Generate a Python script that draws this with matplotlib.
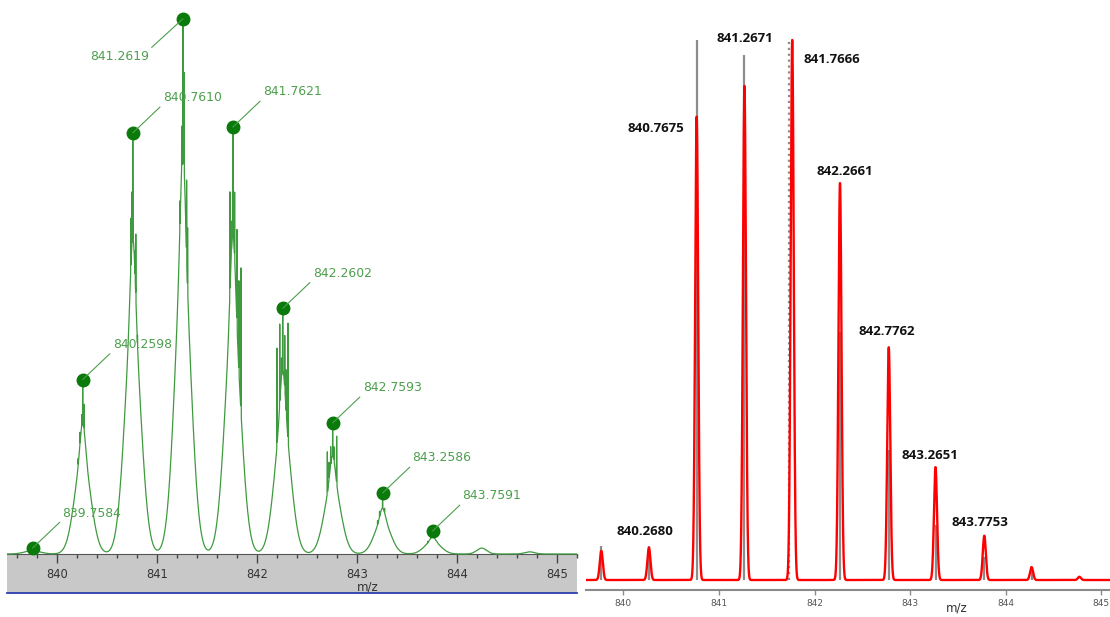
import numpy as np
import matplotlib
matplotlib.use("Agg")
import matplotlib.pyplot as plt
from matplotlib.ticker import MultipleLocator

# measured spectrum: labelled centroids (m/z) and relative intensity (%)
exp_mz = [839.7584, 840.2598, 840.7610, 841.2619, 841.7621,
          842.2602, 842.7593, 843.2586, 843.7591]
exp_int = [1.1, 32.6, 78.7, 100.0, 79.8, 45.9, 24.5, 11.4, 4.3]

# unresolved fine structure on top of each isotope peak:
# (offset from centroid in m/z, height in % of that peak)
exp_spikes = [
    [],
    [(-0.045, 55), (-0.027, 70), (-0.010, 80), (0.013, 86), (0.030, 62)],
    [(-0.020, 80), (-0.008, 86), (0.023, 72), (0.030, 76), (0.047, 52)],
    [(-0.030, 66), (-0.012, 80), (0.004, 86), (0.012, 90), (0.037, 70),
     (0.047, 61)],
    [(-0.030, 85), (-0.015, 78), (0.017, 85), (0.040, 76), (0.060, 64),
     (0.080, 67)],
    [(-0.057, 84), (-0.030, 94), (-0.012, 80), (0.020, 89), (0.035, 75),
     (0.053, 94)],
    [(-0.053, 78), (-0.035, 70), (-0.020, 82), (0.013, 82), (0.040, 90)],
    [(-0.050, 55), (-0.030, 70), (-0.015, 62), (0.020, 75)],
    [(-0.050, 55), (-0.020, 70), (0.030, 60)],
]

# small unlabelled bumps in the baseline
noise_mz = [844.25, 844.73]
noise_int = [1.1, 0.4]

# simulated isotope pattern (red profile)
sim_mz = [839.77, 840.2680, 840.7675, 841.2671, 841.7666, 842.2661,
          842.7762, 843.2651, 843.7753, 844.27, 844.77]
sim_int = [5.4, 6.0, 85.8, 91.5, 100.0, 73.5, 43.1, 20.9, 8.2, 2.4, 0.6]
sim_labels = ["", "840.2680", "840.7675", "841.2671", "841.7666", "842.2661",
              "842.7762", "843.2651", "843.7753", "", ""]

# centroid sticks (grey)
stick_mz = [839.77, 840.2680, 840.7675, 841.2671, 841.738, 842.2661,
            842.7762, 843.2651, 843.7753, 844.27]
stick_int = [6.3, 6.3, 100.0, 97.3, 100.0, 46.0, 24.0, 10.2, 4.3, 1.5]
stick_style = ["-", "-", "-", "-", ":", "-", "-", "-", "-", "-"]

# label placement for the simulated peaks: (dx in m/z, y in %)
sim_label_pos = [None, (-0.04, 8.9), (-0.425, 83.7), (0.006, 100.2),
                 (0.41, 96.3), (0.053, 75.6), (-0.018, 46.1),
                 (-0.057, 23.1), (-0.044, 10.7), None, None]


def gauss(x, c, h, s):
    return h * np.exp(-0.5 * ((x - c) / s) ** 2)


fig = plt.figure(figsize=(11.1, 6.17), dpi=100)

# ---------------- left: measured spectrum ----------------
ax1 = fig.add_axes([7 / 1110, 24 / 617, 570 / 1110, 588 / 617])
x1 = np.linspace(839.50, 845.21, 14000)
env = np.zeros_like(x1)
spk = np.zeros_like(x1)
for mz, h, spikes in zip(exp_mz, exp_int, exp_spikes):
    # broad body plus a narrower core
    env += gauss(x1, mz, 0.55 * h, 0.08) + gauss(x1, mz, 0.2 * h, 0.025)
    spk = np.maximum(spk, gauss(x1, mz, h, 0.0018))
    for off, frac in spikes:
        spk = np.maximum(spk, gauss(x1, mz + off, h * frac / 100, 0.0022))
for mz, h in zip(noise_mz, noise_int):
    env += gauss(x1, mz, h, 0.05)
ax1.plot(x1, np.maximum(env, spk), color="#3f9a3f", lw=0.9, zorder=3)

green_txt = "#4c9f4c"
top = exp_mz[int(np.argmax(exp_int))]
ax1.plot(exp_mz, exp_int, "o", ms=9, color="#0a7a0a", zorder=6, clip_on=False)
for mz, h in zip(exp_mz, exp_int):
    if mz == top:
        xytext, ha, rel = (-24.5, -27.0), "right", (1, 1)
    else:
        xytext, ha, rel = (21.6, 25.2), "left", (0, 0)
    ax1.annotate(f"{mz:.4f}", (mz, h), xytext=xytext, textcoords="offset points",
                 ha=ha, va="center", fontsize=8.9, color=green_txt,
                 family="DejaVu Sans", zorder=7,
                 arrowprops=dict(arrowstyle="-", color=green_txt, lw=0.8,
                                 shrinkA=0, shrinkB=0, relpos=rel))

ax1.set_xlim(839.503, 845.203)
ax1.set_ylim(-7.29, 102.6)
ax1.axhspan(-7.29, 0, color="#c8c8c8", zorder=1, lw=0)
ax1.axhline(-7.29, color="#2b3fb0", lw=1.3, clip_on=False, zorder=4)
for side in ("top", "left", "right"):
    ax1.spines[side].set_visible(False)
ax1.spines["bottom"].set_position(("data", 0))
ax1.spines["bottom"].set_color("#555555")
ax1.set_yticks([])
ax1.xaxis.set_major_locator(MultipleLocator(1))
ax1.xaxis.set_minor_locator(MultipleLocator(0.2))
ax1.tick_params(axis="x", which="major", length=6.5, width=1, color="#444444",
                labelsize=8.3, labelcolor="#333333", pad=3.6)
ax1.tick_params(axis="x", which="minor", length=2.9, width=1, color="#444444")
ax1.set_xlabel("m/z", fontsize=8.5, color="#333333")
ax1.xaxis.set_label_coords(0.633, 0.021)
ax1.patch.set_alpha(0)

# ---------------- right: simulated pattern ----------------
ax2 = fig.add_axes([586 / 1110, 27 / 617, 524 / 1110, 560 / 617])
for mz, h, ls in zip(stick_mz, stick_int, stick_style):
    ax2.vlines(mz, 0, h, color="#8c8c8c", lw=1.6, linestyles=ls, zorder=2)

x2 = np.linspace(839.60, 845.10, 12000)
prof = np.zeros_like(x2)
for mz, h in zip(sim_mz, sim_int):
    prof += gauss(x2, mz, h, 0.016)
ax2.plot(x2, prof, color="#ff0000", lw=1.7, zorder=3)

for mz, h, lab, pos in zip(sim_mz, sim_int, sim_labels, sim_label_pos):
    if lab:
        ax2.text(mz + pos[0], pos[1], lab, ha="center", va="center",
                 fontsize=9.5, fontweight="bold", color="#111111",
                 family="Open Sans", zorder=5)

ax2.set_xlim(839.61, 845.09)
ax2.set_ylim(-1.85, 101.85)
for side in ("top", "left", "right"):
    ax2.spines[side].set_visible(False)
ax2.spines["bottom"].set_color("#8a8a8a")
ax2.spines["bottom"].set_linewidth(1.5)
ax2.set_yticks([])
ax2.xaxis.set_major_locator(MultipleLocator(1))
ax2.tick_params(axis="x", length=3.5, width=1, color="#8a8a8a",
                labelsize=6.5, labelcolor="#555555", pad=3)
ax2.set_xlabel("m/z", fontsize=8.6, color="#333333")
ax2.xaxis.set_label_coords(0.708, -0.021)
ax2.patch.set_alpha(0)

fig.savefig("out.png", dpi=100)
